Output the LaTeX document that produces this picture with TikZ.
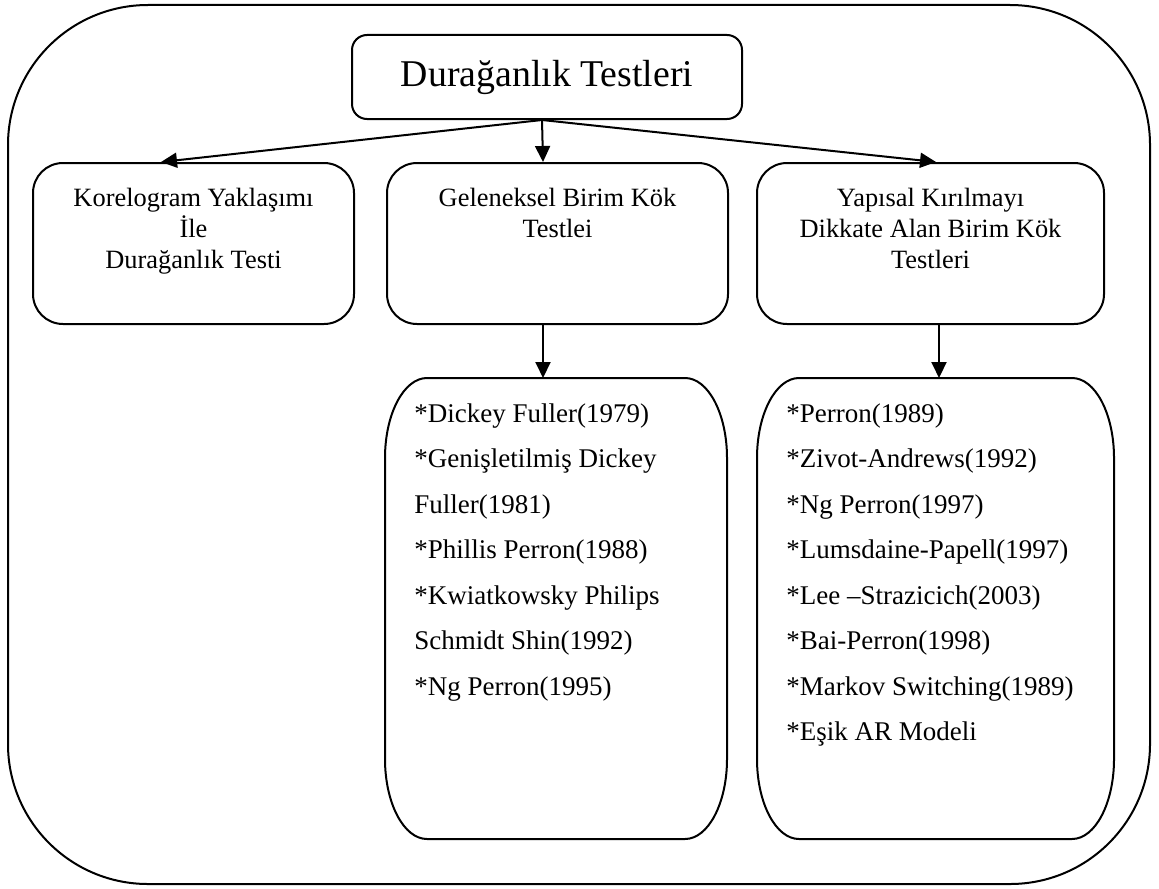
\documentclass[tikz,border=0pt]{standalone}
\usepackage{fontspec}
\setmainfont{Liberation Serif}
\usetikzlibrary{arrows.meta,positioning}
\tikzset{
  kutu/.style    ={draw, rectangle, line width=1pt, rounded corners=15pt, minimum height=80.5pt, inner sep=0pt},
  baskutu/.style ={kutu, rounded corners=7.5pt, minimum width=195pt, minimum height=42pt, font=\fontsize{18.9}{22}\selectfont},
  listekutu/.style={kutu, draw=none, minimum height=229.5pt},
  yazi/.style    ={align=center, inner sep=0pt, font=\fontsize{13.2}{15.5}\selectfont},
  liste/.style   ={align=left, inner sep=0pt, font=\fontsize{13.5}{22.75}\selectfont},
  ok/.style      ={-{Triangle[length=8pt,width=7.5pt]}, line width=1pt},
  oval/.style    ={x radius=21pt, y radius=40pt},
}
% liste kutusunun eliptik koseli cercevesi
\newcommand{\elipskose}[1]{%
  \draw[line width=1pt] ([yshift=-40pt]#1.north west)
    arc[start angle=180, end angle=90, oval] -- ([xshift=-21pt]#1.north east)
    arc[start angle=90, end angle=0, oval] -- ([yshift=40pt]#1.south east)
    arc[start angle=0, end angle=-90, oval] -- ([xshift=21pt]#1.south west)
    arc[start angle=270, end angle=180, oval] -- cycle;}
\begin{document}
\begin{tikzpicture}[x=0.5pt,y=0.5pt]
\useasboundingbox (0,0) rectangle (1159,-888);
% dis cerceve
\draw[line width=1pt, rounded corners=70pt] (8,-5) rectangle (1150,-884);

\node[baskutu] (dt) at (547,-77) {Durağanlık Testleri};

% ust kutular
\node[kutu, anchor=north west, minimum width=160.5pt] (kor) at (32,-162) {};
\node[kutu, anchor=north west, minimum width=170.5pt] (gel) at (386,-162) {};
\node[kutu, anchor=north west, minimum width=173.5pt] (yap) at (756,-162) {};
\node[yazi, below=13pt of kor.north] (korY) {Korelogram Yaklaşımı\\İle\\Durağanlık Testi};
\node[yazi, below=13pt of gel.north] (gelY) {Geleneksel Birim Kök\\Testlei};
\node[yazi, below=13pt of yap.north] (yapY) {Yapısal Kırılmayı\\Dikkate Alan Birim Kök\\Testleri};

% test listeleri
\node[listekutu, anchor=north west, minimum width=170pt] (l1) at (385,-378) {};
\node[listekutu, anchor=north west, minimum width=177.5pt] (l2) at (757,-378) {};
\elipskose{l1}
\elipskose{l2}
\node[liste, below right=12.5pt and 14.5pt of l1.north west] (l1Y)
  {*Dickey Fuller(1979)\\*Genişletilmiş Dickey\\Fuller(1981)\\*Phillis Perron(1988)\\*Kwiatkowsky Philips\\Schmidt Shin(1992)\\*Ng Perron(1995)};
\node[liste, below right=12.5pt and 14.5pt of l2.north west] (l2Y)
  {*Perron(1989)\\*Zivot-Andrews(1992)\\*Ng Perron(1997)\\*Lumsdaine-Papell(1997)\\*Lee –Strazicich(2003)\\*Bai-Perron(1998)\\*Markov Switching(1989)\\*Eşik AR Modeli};

\draw[ok] ([xshift=-2.5pt]dt.south) -- ([xshift=-16.25pt]kor.north);
\draw[ok] ([xshift=-2.5pt]dt.south) -- ([xshift=-7.25pt]gel.north);
\draw[ok] ([xshift=-2.5pt]dt.south) -- ([xshift=2.75pt]yap.north);
\draw[ok] ([xshift=-7.25pt]gel.south) -- ([xshift=-6.5pt]l1.north);
\draw[ok] ([xshift=4.25pt]yap.south) -- ([xshift=1.75pt]l2.north);
\end{tikzpicture}
\end{document}
